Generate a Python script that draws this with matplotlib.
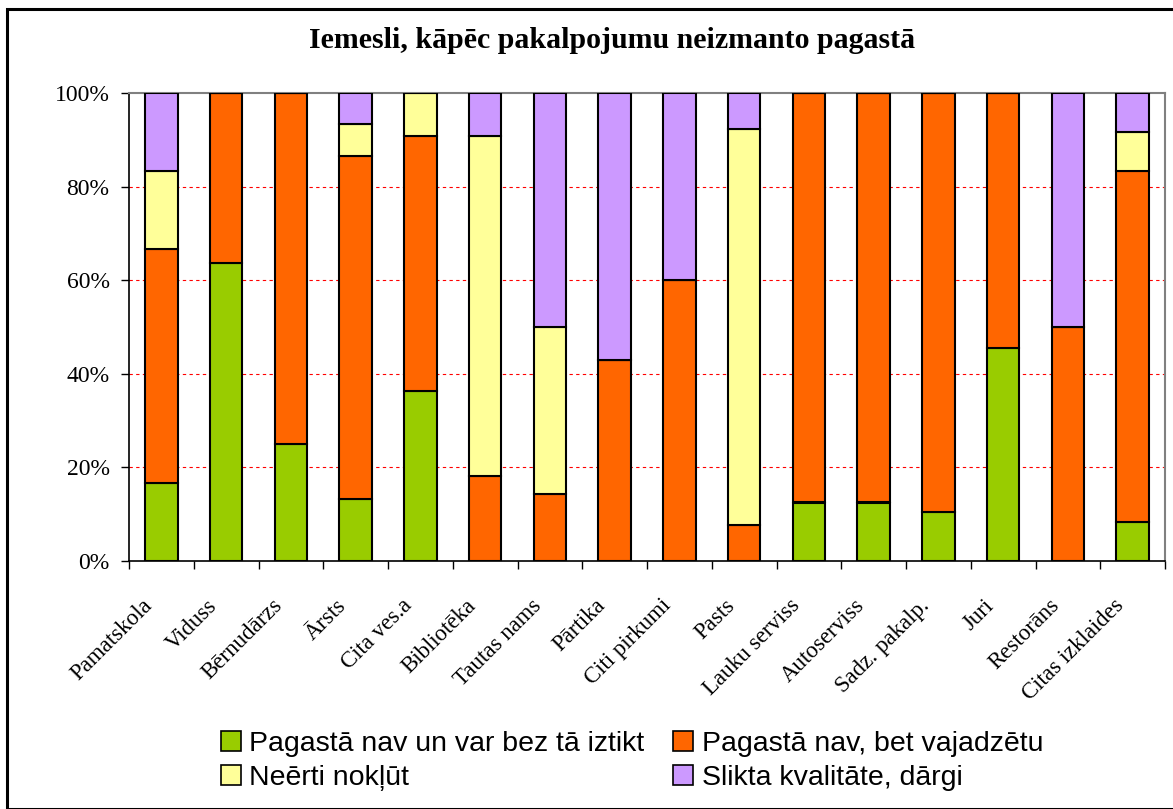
import matplotlib

matplotlib.use("Agg")
import matplotlib.pyplot as plt
import matplotlib.transforms as mtransforms
import numpy as np
from matplotlib.patches import Rectangle

categories = [
    "Pamatskola", "Viduss", "Bērnudārzs", "Ārsts", "Cita ves.a", "Bibliotēka",
    "Tautas nams", "Pārtika", "Citi pirkumi", "Pasts", "Lauku serviss",
    "Autoserviss", "Sadz. pakalp.", "Juri", "Restorāns", "Citas izklaides",
]

# shares per service, percent (each column sums to 100)
nav_var_iztikt = [16.7, 63.6, 25.0, 13.3, 36.4, 0.0, 0.0, 0.0, 0.0, 0.0, 12.5, 12.5, 10.5, 45.5, 0.0, 8.3]
nav_vajadzetu = [50.0, 36.4, 75.0, 73.3, 54.5, 18.2, 14.3, 42.9, 60.0, 7.7, 87.5, 87.5, 89.5, 54.5, 50.0, 75.0]
neerti = [16.7, 0.0, 0.0, 6.7, 9.1, 72.7, 35.7, 0.0, 0.0, 84.6, 0.0, 0.0, 0.0, 0.0, 0.0, 8.4]
slikta = [16.6, 0.0, 0.0, 6.7, 0.0, 9.1, 50.0, 57.1, 40.0, 7.7, 0.0, 0.0, 0.0, 0.0, 50.0, 8.3]

series = [
    ("Pagastā nav un var bez tā iztikt", nav_var_iztikt, "#99CC00"),
    ("Pagastā nav, bet vajadzētu", nav_vajadzetu, "#FF6600"),
    ("Neērti nokļūt", neerti, "#FFFF99"),
    ("Slikta kvalitāte, dārgi", slikta, "#CC99FF"),
]

W, H = 1173, 809
fig = plt.figure(figsize=(W / 100, H / 100), dpi=100)
fig.patches.append(Rectangle((7 / W, 0), 1, 1 - 9 / H, transform=fig.transFigure,
                             fill=False, edgecolor="black", linewidth=2.2))

ax = fig.add_axes([129 / W, 1 - 561 / H, (1165 - 129) / W, (561 - 93) / H])
x = np.arange(len(categories))
bottom = np.zeros(len(categories))
handles = []
for label, vals, color in series:
    vals = np.array(vals)
    b = ax.bar(x, vals, 0.5, bottom=bottom, color=color, edgecolor="black",
               linewidth=1.5, label=label, zorder=3)
    handles.append(b)
    bottom += vals

ax.set_xlim(-0.5, len(categories) - 0.5)
ax.set_ylim(0, 100)
ax.set_yticks([0, 20, 40, 60, 80, 100])
ax.set_yticklabels([f"{v}%" for v in range(0, 101, 20)], family="Liberation Serif", fontsize=17)
for v in (20, 40, 60, 80):
    ax.axhline(v, color="red", linestyle=(0, (3, 3)), linewidth=0.8, zorder=1)

ax.set_xticks(x)
ax.set_xticklabels(categories, family="Liberation Serif", fontsize=16.5, rotation=45,
                   ha="right", va="center", rotation_mode="anchor")
ax.tick_params(axis="x", which="major", length=0, pad=30)
shift = mtransforms.ScaledTranslation(-12 / 100, 0, fig.dpi_scale_trans)
for lbl in ax.get_xticklabels():
    lbl.set_transform(lbl.get_transform() + shift)
ax.set_xticks(np.arange(len(categories) + 1) - 0.5, minor=True)
ax.tick_params(axis="x", which="minor", length=6, direction="out", width=1)
ax.tick_params(axis="y", length=6, direction="out", width=1, pad=8)

for side in ("top", "right"):
    ax.spines[side].set_color("#808080")
    ax.spines[side].set_linewidth(1.5)
for side in ("left", "bottom"):
    ax.spines[side].set_linewidth(1.2)

fig.text(612 / W, 1 - 41 / H, "Iemesli, kāpēc pakalpojumu neizmanto pagastā",
         family="Liberation Serif", fontsize=21.5, fontweight="bold", ha="center", va="center")

# row-major legend: green, orange on the first row
order = [0, 2, 1, 3]
leg = fig.legend(handles=[handles[i] for i in order], loc="center",
                 bbox_to_anchor=(632 / W, 1 - 761 / H),
                 ncol=2, frameon=False, prop={"family": "Liberation Sans", "size": 20.5},
                 handlelength=0.7, handleheight=0.7, handletextpad=0.3, columnspacing=1.0,
                 labelspacing=0.3)
for h in leg.legend_handles:
    h.set_linewidth(1.2)

fig.savefig("out.png", dpi=100)
